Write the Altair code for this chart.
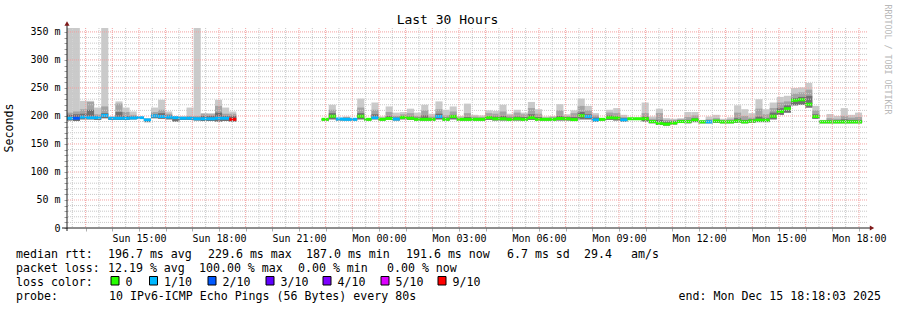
import altair as alt
import pandas as pd

FONT = "DejaVu Sans Mono"

# ---------------- data (16-minute steps counted from Sun 12:15) ----------------
step_minutes = 16
first_step = "2025-12-14 12:15:00"
seg1_first = 0
seg2_first = 36

# segment 1 (Sun afternoon)
med1 = [196, 196, 198, 197, 197, 201, 196, 196, 196, 196.5, 197, 193,
        200, 199, 198, 197, 196, 196, 195, 195, 195, 196, 196, 194]
hi1 = [360, 360, 227, 227, 215, 360, 199, 226, 215, 208, 199, 196,
       215, 229, 208, 200, 200, 215, 360, 205, 205, 229, 215, 208]
mid1 = [206, 208, 212, 225, 203, 217, 198, 222, 207, 202, 198, 195,
        207, 211, 204, 199, 198, 200, 200, 204, 203, 218, 204, 204]
dark1 = [202, 203, 204, 211, 200, 205, 197, 207, 200, 199, 198, 194,
         203, 205, 201, 198, 197, 198, 197, 200, 200, 206, 200, 200]
lo1 = [192, 191, 194, 194, 193, 196, 193, 193, 193, 194, 195, 189,
       196, 195, 194, 190, 193, 193, 192, 191, 191, 190, 191, 190]
loss1 = [1, 2, 1, 1, 1, 1, 1, 1, 1, 1, 1, 1,
         1, 1, 1, 1, 1, 1, 1, 1, 1, 1, 1, 9]

# segment 2 (Sun night .. Mon evening)
med2 = [194, 199.5, 194.5, 194, 194, 199.5, 194, 197, 194, 195.5,
        194.5, 197.5, 196, 194, 194, 194, 199, 194, 199, 194,
        194, 194, 194, 197, 195, 195, 194, 195, 194, 197,
        194, 194, 194, 195.5, 195, 193.5, 200.5, 199, 193, 194,
        197, 196.5, 193, 195, 195, 195, 190, 187, 185.5, 187.5,
        190, 190, 193, 189.5, 189.5, 191, 189.5, 189.5, 191, 189.5,
        191, 192.5, 192.5, 199.5, 208, 213, 228, 229, 221, 199,
        189.5, 189.5, 189.5, 189.5, 189.5, 189.5]
hi2 = [196, 220, 197, 199, 196, 231, 196, 224, 199, 217,
       206, 207, 213, 206, 220, 204, 226, 211, 217, 200,
       222, 202, 201, 210, 209, 220, 204, 211, 206, 225,
       212, 199, 200, 221, 203, 210, 231, 218, 205, 196,
       211, 214, 202, 197, 197, 224, 199, 213, 196, 195,
       196, 207, 207, 193, 199, 202, 195, 197.5, 219, 212,
       205, 230, 212, 224, 234, 236, 250, 251, 259, 218,
       193, 203.5, 200, 214, 202, 206]
mid2 = [195, 211, 196, 198, 195, 215, 195, 211, 197, 207,
        200, 203, 205, 200, 210, 199, 212, 201, 208, 197,
        205, 199, 198, 205, 204, 208, 201, 206, 203, 214,
        204, 197, 198, 210, 200, 205, 218, 210, 201, 195,
        206, 205, 198, 196, 196, 205, 195, 205, 193, 193,
        194, 198, 201, 192, 194, 196, 193, 194, 206, 200,
        197, 213, 203, 214, 224, 226, 240, 242, 247, 210,
        192, 196, 195, 200, 197, 198]
dark2 = [195, 205, 195, 196, 195, 205, 195, 203, 196, 200,
         197, 200, 199, 197, 201, 196, 204, 197, 202, 196,
         198, 196, 196, 199, 199, 200, 197, 199, 198, 203,
         198, 195, 196, 200, 198, 198, 207, 203, 197, 195,
         201, 199, 196, 196, 196, 199, 192, 193, 190, 191,
         193, 193, 196, 191, 192, 193, 191, 191, 196, 193,
         194, 199, 196, 206, 214, 219, 232, 234, 236, 203,
         191, 192, 192, 194, 193, 193]
lo2 = [192, 194, 192, 192, 192, 194, 192, 194, 192, 193,
       192, 194, 193, 192, 192, 192, 194, 192, 194, 192,
       192, 192, 192, 193, 192, 192, 192, 192, 192, 193,
       192, 192, 192, 192, 192, 191, 194, 194, 190, 192,
       193, 192, 190, 193, 193, 190, 187, 184, 183, 185,
       188, 187, 189, 187, 187, 188, 187, 187, 188, 187,
       188, 189, 189, 194, 202, 206, 219, 220, 215, 195,
       187, 187, 187, 187, 187, 187]
loss2 = [0, 0, 1, 1, 1, 0, 0, 1, 0, 0,
         1, 0, 0, 0, 0, 0, 1, 0, 0, 0,
         0, 0, 0, 0, 0, 0, 0, 0, 0, 0,
         0, 0, 0, 0, 0, 0, 0, 1, 1, 0,
         0, 0, 1, 0, 0, 0, 0, 0, 0, 0,
         0, 0, 0, 0, 1, 0, 0, 0, 0, 0,
         0, 0, 0, 0, 0, 0, 0, 0, 0, 0,
         0, 0, 0, 0, 0, 0]

loss_levels = [0, 1, 2, 3, 4, 5, 9]
loss_labels = ["0", "1/10", "2/10", "3/10", "4/10", "5/10", "9/10"]
loss_colors = ["#26ff00", "#00b8ff", "#0059ff", "#5e00ff", "#7e00ff", "#dd00ff", "#ff0000"]

stats_row1 = ["median rtt:", "196.7 ms avg", "229.6 ms max", "187.0 ms min",
              "191.6 ms now", "6.7 ms sd", "29.4", "am/s"]
stats_row2 = ["packet loss:", "12.19 % avg", "100.00 % max", "0.00 % min", "0.00 % now"]
probe_text = "10 IPv6-ICMP Echo Pings (56 Bytes) every 80s"
end_text = "end: Mon Dec 15 18:18:03 2025"
title_text = "Last 30 Hours"


def fmt(ts):
    return ts.strftime("%Y-%m-%dT%H:%M:%SZ")


def segment(first_idx, med, hi, mid, dark, lo, loss):
    base_t = pd.Timestamp(first_step)
    rows = []
    for i in range(len(med)):
        s = base_t + pd.Timedelta(minutes=step_minutes * (first_idx + i))
        e = s + pd.Timedelta(minutes=step_minutes)
        rows.append(dict(start=fmt(s), end=fmt(e), med=med[i], hi=hi[i], mid=mid[i],
                         dark=dark[i], lo=lo[i], loss=loss[i]))
    return rows


df = pd.DataFrame(segment(seg1_first, med1, hi1, mid1, dark1, lo1, loss1)
                  + segment(seg2_first, med2, hi2, mid2, dark2, lo2, loss2))

t_begin = pd.Timestamp("2025-12-14 12:18:03")
t_end = pd.Timestamp("2025-12-15 18:18:03")


def dt(ts):
    return alt.DateTime(year=ts.year, month=ts.month, date=ts.day, hours=ts.hour,
                        minutes=ts.minute, seconds=ts.second, utc=True)


hours = pd.date_range("2025-12-14 13:00", "2025-12-15 18:00", freq="1h")
halfs = [h - pd.Timedelta(minutes=30) for h in hours] + [hours[-1] + pd.Timedelta(minutes=30)]
halfs = [h for h in halfs if t_begin < h < t_end]

xscale = alt.Scale(type="utc", domain=[dt(t_begin), dt(t_end)])
yscale = alt.Scale(domain=[0, 357], nice=False, zero=True)

xaxis = alt.Axis(values=[dt(h) for h in hours], title=None, grid=False, domain=False,
                 tickSize=3, tickColor="#b0b0b0", labelPadding=2,
                 labelExpr="utchours(datum.value) % 3 == 0 ? utcFormat(datum.value, '%a %H:%M') : ''",
                 labelFont=FONT, labelFontSize=10, labelColor="#000000",
                 labelOverlap=False, labelFlush=False)
yaxis = alt.Axis(values=list(range(0, 351, 10)), title=None, grid=False, domain=False,
                 tickSize=3, tickColor="#a0a0a0", labelPadding=4,
                 labelExpr="datum.value % 50 == 0 ? (datum.value == 0 ? '0' : datum.value + ' m') : ''",
                 labelFont=FONT, labelFontSize=10, labelColor="#000000",
                 labelOverlap=False, labelBaseline="middle")


def X(field):
    return alt.X(field, scale=xscale, axis=xaxis)


def Y(field):
    return alt.Y(field, scale=yscale, axis=yaxis)


base = alt.Chart(df)

light = base.mark_rect(color="#cacaca", clip=True).encode(
    x=X("start:T"), x2="end:T", y=Y("lo:Q"), y2="hi:Q")
midl = base.mark_rect(color="#a4a4a4", clip=True).encode(
    x=X("start:T"), x2="end:T", y=Y("lo:Q"), y2="mid:Q")
darkl = base.mark_rect(color="#707070", clip=True).encode(
    x=X("start:T"), x2="end:T", y=Y("lo:Q"), y2="dark:Q")
median = base.mark_rule(strokeWidth=3, clip=True).encode(
    x=X("start:T"), x2="end:T", y=Y("med:Q"),
    color=alt.Color("loss:O", scale=alt.Scale(domain=loss_levels, range=loss_colors), legend=None))

hminor = pd.DataFrame({"v": [v for v in range(10, 351, 10) if v % 50]})
hmajor = pd.DataFrame({"v": list(range(50, 351, 50))})
vminor = pd.DataFrame({"t": [fmt(h) for h in halfs]})
vmajor = pd.DataFrame({"t": [fmt(h) for h in hours]})

grid_minor_h = alt.Chart(hminor).mark_rule(color="#c8c8c8", strokeDash=[1, 1], strokeWidth=1).encode(
    y=Y("v:Q"))
grid_minor_v = alt.Chart(vminor).mark_rule(color="#c8c8c8", strokeDash=[1, 1], strokeWidth=1).encode(
    x=X("t:T"))
grid_major_h = alt.Chart(hmajor).mark_rule(color="#f2a0a0", strokeDash=[1, 1], strokeWidth=1).encode(
    y=Y("v:Q"))
grid_major_v = alt.Chart(vmajor).mark_rule(color="#f2a0a0", strokeDash=[1, 1], strokeWidth=1).encode(
    x=X("t:T"))

one = alt.Data(values=[{"a": 1}])
axis_x_line = alt.Chart(one).mark_rule(color="#1e1e1e", strokeWidth=1).encode(
    x=alt.value(-5), x2=alt.value(803), y=alt.value(200))
axis_y_line = alt.Chart(one).mark_rule(color="#1e1e1e", strokeWidth=1).encode(
    x=alt.value(0), y=alt.value(203), y2=alt.value(-3))
arrow_up = alt.Chart(one).mark_point(shape="triangle-up", filled=True, size=26,
                                     color="#7f1a1a", opacity=1).encode(
    x=alt.value(0), y=alt.value(-4.5))
arrow_right = alt.Chart(one).mark_point(shape="triangle-right", filled=True, size=26,
                                        color="#7f1a1a", opacity=1).encode(
    x=alt.value(805), y=alt.value(200))


def txt(s, x, y, size=11.6, align="left", baseline="alphabetic", angle=0, color="#000000"):
    return alt.Chart(one).mark_text(text=s, font=FONT, fontSize=size, align=align,
                                    baseline=baseline, angle=angle, color=color).encode(
        x=alt.value(x), y=alt.value(y))


layers = [light, midl, darkl, median, grid_minor_h, grid_minor_v, grid_major_h, grid_major_v,
          axis_x_line, axis_y_line, arrow_up, arrow_right]

layers.append(txt(title_text, 380.5, -4, size=13, align="center"))
layers.append(txt("Seconds", -57, 100, align="center", baseline="middle", angle=270))
layers.append(txt("RRDTOOL / TOBI OETIKER", 820, 31.5, size=8.3, align="center",
                  baseline="middle", angle=90, color="#b8b8b8"))

row1_x = [-51, 41, 141, 239, 339, 440, 517, 564]
for s, x in zip(stats_row1, row1_x):
    layers.append(txt(s, x, 229.5))
row2_x = [-51, 41, 132, 231, 320]
for s, x in zip(stats_row2, row2_x):
    layers.append(txt(s, x, 243.5))
layers.append(txt("loss color:", -51, 257.5))
sw_x = [44, 82.5, 141, 199, 256, 314, 371]
for lab, col, x in zip(loss_labels, loss_colors, sw_x):
    layers.append(alt.Chart(one).mark_rect(color=col, stroke="#000000", strokeWidth=1).encode(
        x=alt.value(x), x2=alt.value(x + 8), y=alt.value(248.5), y2=alt.value(257)))
    layers.append(txt(lab, x + 14.5, 257.5))
layers.append(txt("probe:", -51, 271.5))
layers.append(txt(probe_text, 42, 271.5))
layers.append(txt(end_text, 814, 271.5, align="right"))

chart = alt.layer(*layers).properties(
    width=800, height=200,
    padding={"left": 67, "top": 28, "right": 30, "bottom": 82},
    autosize=alt.AutoSizeParams(type="none"),
    background="white",
).configure_view(stroke=None)

chart.save("out.html", embed_options={"renderer": "svg", "actions": False})
